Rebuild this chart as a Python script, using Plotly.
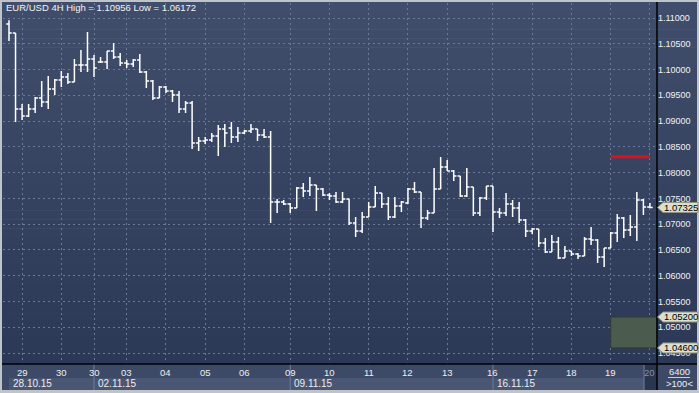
import plotly.graph_objects as go

# ---------------- data ----------------
bar_index = list(range(99))
open_ = [1.10884, 1.10709, 1.09235, 1.09099, 1.09235, 1.09448, 1.09370, 1.09623, 1.09797, 1.09855,
         1.09758, 1.10088, 1.10088, 1.10205, 1.10146, 1.10146, 1.10360, 1.10243, 1.10127, 1.10108,
         1.10185, 1.09952, 1.09778, 1.09448, 1.09661, 1.09584, 1.09506, 1.09235, 1.09351, 1.08575,
         1.08614, 1.08633, 1.08711, 1.08847, 1.08866, 1.08692, 1.08769, 1.08808, 1.08847, 1.08730,
         1.08692, 1.07430, 1.07430, 1.07392, 1.07314, 1.07702, 1.07644, 1.07760, 1.07683, 1.07566,
         1.07547, 1.07430, 1.07489, 1.07023, 1.06868, 1.07139, 1.07333, 1.07605, 1.07392, 1.07139,
         1.07353, 1.07411, 1.07683, 1.07624, 1.07120, 1.07217, 1.07683, 1.08109, 1.08032, 1.07935,
         1.07547, 1.07721, 1.07217, 1.07508, 1.07741, 1.07236, 1.07217, 1.07392, 1.07314, 1.07081,
         1.06868, 1.06907, 1.06635, 1.06460, 1.06654, 1.06344, 1.06480, 1.06422, 1.06383, 1.06713,
         1.06693, 1.06363, 1.06538, 1.06829, 1.07120, 1.06887, 1.06945, 1.07469, 1.07333]
high = [1.10956, 1.10709, 1.09332, 1.09332, 1.09467, 1.09778, 1.09875, 1.09817, 1.09972, 1.09933,
        1.10205, 1.10379, 1.10728, 1.10282, 1.10243, 1.10360, 1.10515, 1.10321, 1.10185, 1.10205,
        1.10302, 1.09972, 1.09797, 1.09681, 1.09681, 1.09603, 1.09584, 1.09390, 1.09390, 1.08692,
        1.08692, 1.08769, 1.08924, 1.08944, 1.08982, 1.08885, 1.08827, 1.08944, 1.08847, 1.08847,
        1.08808, 1.07489, 1.07469, 1.07411, 1.07721, 1.07799, 1.07915, 1.07760, 1.07702, 1.07605,
        1.07624, 1.07624, 1.07489, 1.07139, 1.07236, 1.07430, 1.07741, 1.07605, 1.07527, 1.07527,
        1.07450, 1.07702, 1.07818, 1.07624, 1.07275, 1.08090, 1.08303, 1.08245, 1.08051, 1.07935,
        1.08090, 1.07721, 1.07527, 1.07741, 1.07741, 1.07314, 1.07605, 1.07469, 1.07430, 1.07101,
        1.06926, 1.06907, 1.06732, 1.06790, 1.06751, 1.06577, 1.06480, 1.06441, 1.06751, 1.06945,
        1.06713, 1.06538, 1.06848, 1.07198, 1.07139, 1.07178, 1.07624, 1.07489, 1.07411]
low = [1.10554, 1.08982, 1.09021, 1.09079, 1.09157, 1.09273, 1.09235, 1.09506, 1.09661, 1.09720,
       1.09758, 1.09952, 1.09952, 1.09855, 1.10127, 1.10011, 1.10205, 1.10069, 1.10030, 1.10049,
       1.09933, 1.09642, 1.09409, 1.09448, 1.09545, 1.09370, 1.09157, 1.09157, 1.08459, 1.08420,
       1.08556, 1.08594, 1.08323, 1.08497, 1.08575, 1.08594, 1.08750, 1.08769, 1.08614, 1.08672,
       1.07023, 1.07217, 1.07372, 1.07217, 1.07314, 1.07527, 1.07547, 1.07256, 1.07547, 1.07469,
       1.07411, 1.07411, 1.06984, 1.06751, 1.06829, 1.07139, 1.07333, 1.07314, 1.07081, 1.07120,
       1.07236, 1.07392, 1.07605, 1.06926, 1.07081, 1.07217, 1.07683, 1.08032, 1.07838, 1.07527,
       1.07527, 1.07159, 1.07159, 1.07469, 1.06848, 1.07120, 1.07159, 1.07139, 1.07023, 1.06751,
       1.06810, 1.06557, 1.06441, 1.06460, 1.06325, 1.06344, 1.06383, 1.06325, 1.06383, 1.06596,
       1.06247, 1.06172, 1.06538, 1.06654, 1.06732, 1.06771, 1.06674, 1.07178, 1.07314]
close = [1.10709, 1.09235, 1.09099, 1.09235, 1.09448, 1.09370, 1.09623, 1.09797, 1.09855, 1.09758,
         1.10088, 1.10088, 1.10205, 1.10030, 1.10146, 1.10360, 1.10243, 1.10127, 1.10108, 1.10185,
         1.09952, 1.09778, 1.09448, 1.09661, 1.09584, 1.09506, 1.09235, 1.09351, 1.08575, 1.08614,
         1.08633, 1.08711, 1.08847, 1.08769, 1.08692, 1.08769, 1.08808, 1.08847, 1.08730, 1.08692,
         1.07430, 1.07430, 1.07392, 1.07314, 1.07702, 1.07644, 1.07760, 1.07683, 1.07566, 1.07547,
         1.07430, 1.07489, 1.07023, 1.06868, 1.07139, 1.07333, 1.07605, 1.07392, 1.07139, 1.07353,
         1.07430, 1.07683, 1.07624, 1.07120, 1.07217, 1.07683, 1.08109, 1.08032, 1.07935, 1.07547,
         1.07721, 1.07217, 1.07508, 1.07741, 1.07236, 1.07217, 1.07392, 1.07314, 1.07081, 1.06868,
         1.06907, 1.06635, 1.06460, 1.06654, 1.06344, 1.06480, 1.06422, 1.06383, 1.06713, 1.06693,
         1.06363, 1.06538, 1.06829, 1.07120, 1.06887, 1.06945, 1.07469, 1.07333, 1.07325]

day_ticks = [2, 8, 13, 18, 24, 30, 36, 43, 49, 55, 61, 67, 74, 80, 86, 92, 98]
day_labels = ["29", "30", "30", "03", "04", "05", "06", "09", "10", "11", "12", "13",
              "16", "17", "18", "19", "20"]
week_starts = [0, 13, 43, 74]
week_ends = [13, 43, 74, 97.1]
week_labels = ["28.10.15", "02.11.15", "09.11.15", "16.11.15"]
price_ticks = [1.045, 1.050, 1.055, 1.060, 1.065, 1.070, 1.075, 1.080, 1.085,
               1.090, 1.095, 1.100, 1.105, 1.110]
last_price = 1.07325
zone_high = 1.05200
zone_low = 1.04600
red_level = 1.08310
red_from, red_to = 92, 98
zone_from = 92
title_text = "EUR/USD 4H High = {:.5f} Low = {:.5f}".format(max(high), min(low))
corner_top, corner_bottom = "6400", ">100<"

# ---------------- geometry helpers ----------------
W, H = 699, 393
ML, MR, MT, MB = 3, 42, 3, 29
PW, PH = W - ML - MR, H - MT - MB
XR = [-0.917, 99.08]
YR = [1.04288, 1.11291]


def px(X):
    return (X - ML) / PW


def py(Y):
    return (H - MB - Y) / PH


fig = go.Figure()
fig.add_trace(go.Ohlc(
    x=bar_index, open=open_, high=high, low=low, close=close,
    increasing=dict(line=dict(color="#ffffff", width=1.5)),
    decreasing=dict(line=dict(color="#ffffff", width=1.5)),
    tickwidth=0.42, hoverinfo="skip", showlegend=False,
))

shapes = []
# gradient background
c0 = (0x40, 0x4e, 0x6c)
c1 = (0x2b, 0x38, 0x56)
N = 40
top, bot = 2, 364
for k in range(N):
    t = k / (N - 1)
    col = "rgb({},{},{})".format(*[round(a + (b - a) * t) for a, b in zip(c0, c1)])
    y0 = top + k * (bot - top) / N
    y1 = y0 + (bot - top) / N + 0.6
    shapes.append(dict(type="rect", xref="paper", yref="paper", x0=px(2), x1=px(697),
                       y0=py(min(y1, bot)), y1=py(y0), fillcolor=col, line=dict(width=0),
                       layer="below"))
# x-axis strip
shapes.append(dict(type="rect", xref="paper", yref="paper", x0=px(2), x1=px(697),
                   y0=py(390), y1=py(364), fillcolor="#3d4a67", line=dict(width=0), layer="below"))
for a, b in zip(week_starts, week_ends):
    shapes.append(dict(type="rect", xref="x", yref="paper", x0=a, x1=b, y0=py(390), y1=py(378),
                       fillcolor="#4a5774", line=dict(width=0), layer="above"))
shapes.append(dict(type="rect", xref="x", yref="paper", x0=week_ends[-1], x1=XR[1],
                   y0=py(390), y1=py(364), fillcolor="#2a3550", line=dict(width=0), layer="above"))
for s in week_starts[1:] + [week_ends[-1]]:
    shapes.append(dict(type="line", xref="x", yref="paper", x0=s, x1=s, y0=py(390), y1=py(364),
                       line=dict(color="#6f7e9c", width=1), layer="above"))
# zone and red level
shapes.append(dict(type="rect", xref="x", yref="y", x0=zone_from, x1=XR[1], y0=zone_low, y1=zone_high,
                   fillcolor="#4b5b4d", line=dict(color="#2f3b33", width=1), layer="above"))
shapes.append(dict(type="line", xref="x", yref="y", x0=red_from, x1=red_to, y0=red_level, y1=red_level,
                   line=dict(color="#e0101a", width=3), layer="above"))
# frame lines
shapes.append(dict(type="line", xref="paper", yref="paper", x0=px(2), x1=px(697), y0=py(364), y1=py(364),
                   line=dict(color="#000000", width=1.5), layer="above"))
shapes.append(dict(type="line", xref="paper", yref="paper", x0=px(657), x1=px(657), y0=py(390), y1=py(2),
                   line=dict(color="#000000", width=1.5), layer="above"))
shapes.append(dict(type="line", xref="paper", yref="paper", x0=px(668), x1=px(690), y0=py(377.5), y1=py(377.5),
                   line=dict(color="#c8d0de", width=1), layer="above"))

# price tags
hh = 5.0 * (YR[1] - YR[0]) / PH
annotations = []
for v in [last_price, zone_high, zone_low]:
    path = "M {a},{y} L {b},{yt} L {c},{yt} L {c},{yb} L {b},{yb} Z".format(
        a=px(657.5), b=px(663), c=px(698), y=v, yt=v + hh, yb=v - hh)
    shapes.append(dict(type="path", xref="paper", yref="y", path=path, fillcolor="#dcdfcc",
                       line=dict(color="#8e9484", width=1), layer="above"))
    annotations.append(dict(xref="paper", yref="y", x=px(680.5), y=v, text="{:.5f}".format(v),
                            showarrow=False, xanchor="center", yanchor="middle",
                            font=dict(family="Liberation Sans", size=9.5, color="#000000")))

# title
annotations.append(dict(xref="paper", yref="paper", x=px(4), y=py(8), text=title_text, showarrow=False,
                        xanchor="left", yanchor="middle",
                        font=dict(family="Liberation Sans", size=9.5, color="#f2f2f2")))
# day labels
for t, lab in zip(day_ticks, day_labels):
    col = "#8591a8" if t == day_ticks[-1] else "#eeeeee"
    annotations.append(dict(xref="x", yref="paper", x=t, y=py(372.5), text=lab, showarrow=False,
                            xanchor="center", yanchor="middle",
                            font=dict(family="Liberation Sans", size=9.5, color=col)))
# week labels
for s, lab in zip(week_starts, week_labels):
    annotations.append(dict(xref="x", yref="paper", x=s, y=py(384), text=lab, showarrow=False,
                            xanchor="left", yanchor="middle", xshift=2,
                            font=dict(family="Liberation Sans", size=10, color="#eeeeee")))
annotations.append(dict(xref="paper", yref="paper", x=px(679), y=py(371.5), text=corner_top, showarrow=False,
                        xanchor="center", yanchor="middle",
                        font=dict(family="Liberation Sans", size=9.5, color="#eeeeee")))
annotations.append(dict(xref="paper", yref="paper", x=px(679), y=py(384), text=corner_bottom, showarrow=False,
                        xanchor="center", yanchor="middle",
                        font=dict(family="Liberation Sans", size=9.5, color="#eeeeee")))

fig.update_layout(
    width=W, height=H, margin=dict(l=ML, r=MR, t=MT, b=MB, pad=0),
    paper_bgcolor="#bfc3ca", plot_bgcolor="rgba(0,0,0,0)",
    shapes=shapes, annotations=annotations, showlegend=False, hovermode=False,
    xaxis=dict(range=XR, tickvals=day_ticks, showticklabels=False, showgrid=True,
               gridcolor="#6a7899", griddash="2px,3px", gridwidth=1, zeroline=False,
               showline=False, ticks="", rangeslider=dict(visible=False), fixedrange=True),
    yaxis=dict(range=YR, side="right", tickvals=price_ticks,
               ticktext=["{:.5f}".format(v) for v in price_ticks], showgrid=True,
               gridcolor="#6a7899", griddash="2px,3px", gridwidth=1, zeroline=False,
               showline=False, ticks="", fixedrange=True,
               tickfont=dict(family="Liberation Sans", size=9, color="#f2f2f2")),
)

fig.write_html("out.html", config={"displayModeBar": False, "staticPlot": True},
               post_script="document.body.style.margin='0';document.body.style.overflow='hidden';")
